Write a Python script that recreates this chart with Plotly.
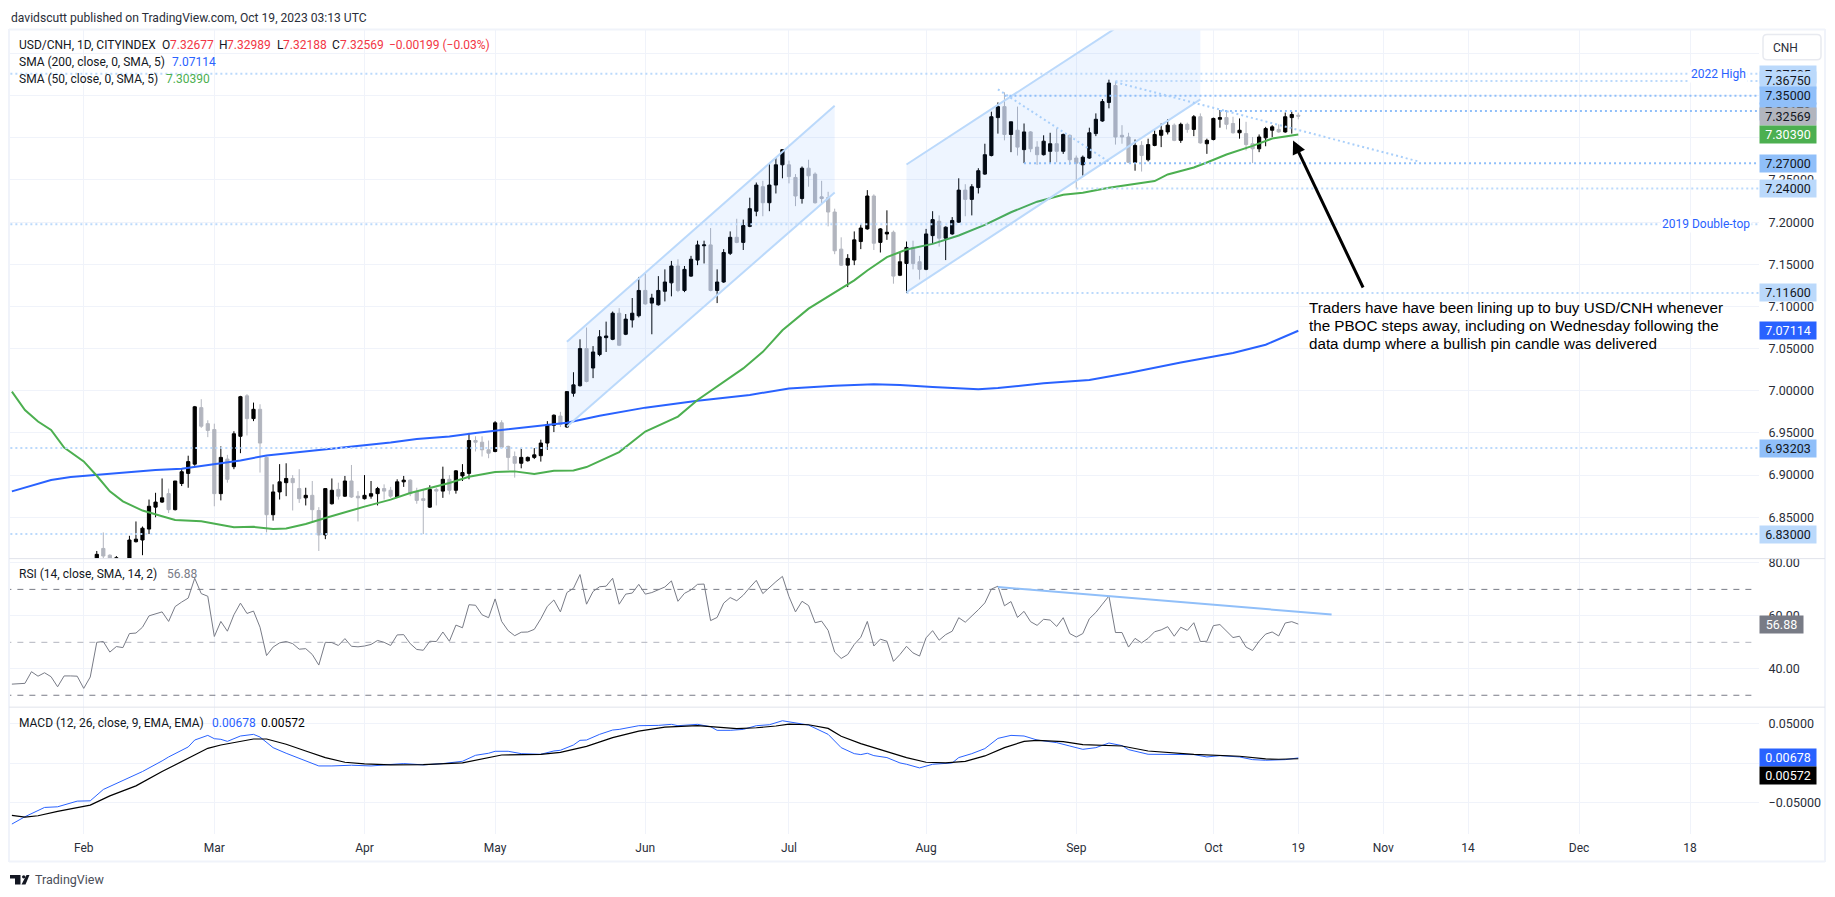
import plotly.graph_objects as go

W, H = 1835, 897

open_ = [6.798,6.813,6.805,6.799,6.797,6.795,6.821,6.823,6.836,6.862,
6.868,6.878,6.859,6.890,6.902,6.913,6.980,6.961,6.954,6.878,
6.919,6.910,6.946,6.994,6.967,6.978,6.921,6.853,6.880,6.891,
6.896,6.884,6.873,6.876,6.858,6.829,6.866,6.883,6.875,6.893,
6.875,6.872,6.875,6.878,6.884,6.882,6.874,6.892,6.894,6.880,
6.872,6.862,6.883,6.881,6.895,6.882,6.899,6.902,6.941,6.939,
6.930,6.928,6.962,6.934,6.922,6.914,6.917,6.921,6.923,6.938,
6.959,6.970,6.957,6.997,7.006,7.050,7.027,7.043,7.063,7.061,
7.092,7.067,7.084,7.089,7.119,7.104,7.102,7.118,7.128,7.148,
7.119,7.136,7.155,7.172,7.173,7.119,7.129,7.163,7.182,7.176,
7.195,7.213,7.242,7.223,7.244,7.268,7.268,7.253,7.228,7.264,
7.257,7.230,7.229,7.212,7.168,7.149,7.155,7.177,7.192,7.231,
7.176,7.186,7.188,7.137,7.151,7.170,7.153,7.144,7.184,7.201,
7.181,7.186,7.200,7.238,7.227,7.241,7.257,7.279,7.324,7.337,
7.304,7.309,7.286,7.307,7.289,7.280,7.284,7.293,7.284,7.303,
7.276,7.268,7.276,7.305,7.320,7.342,7.362,7.303,7.301,7.271,
7.291,7.274,7.291,7.303,7.307,7.315,7.297,7.316,7.310,7.325,
7.293,7.298,7.322,7.324,7.317,7.306,7.305,7.293,7.287,7.300,
7.309,7.310,7.307,7.324,7.32677]

high = [6.810,6.832,6.806,6.804,6.799,6.828,6.845,6.839,6.871,6.879,
6.896,6.884,6.893,6.907,6.923,6.982,6.990,6.965,6.961,6.934,
6.924,6.952,6.994,6.996,6.986,6.984,6.922,6.889,6.913,6.914,
6.900,6.907,6.885,6.893,6.862,6.884,6.896,6.891,6.899,6.912,
6.881,6.900,6.893,6.886,6.889,6.886,6.895,6.899,6.895,6.885,
6.883,6.888,6.885,6.910,6.900,6.906,6.913,6.950,6.946,6.946,
6.941,6.964,6.965,6.935,6.928,6.932,6.922,6.932,6.942,6.964,
6.972,6.975,6.999,7.022,7.061,7.075,7.053,7.072,7.082,7.094,
7.098,7.091,7.110,7.135,7.140,7.115,7.136,7.144,7.154,7.156,
7.148,7.160,7.178,7.178,7.193,7.144,7.168,7.189,7.204,7.203,
7.229,7.247,7.249,7.270,7.277,7.286,7.273,7.257,7.266,7.274,
7.259,7.249,7.236,7.216,7.182,7.162,7.189,7.197,7.238,7.233,
7.193,7.214,7.190,7.164,7.177,7.178,7.160,7.192,7.213,7.208,
7.195,7.206,7.252,7.245,7.245,7.264,7.293,7.331,7.342,7.354,
7.319,7.337,7.317,7.308,7.296,7.303,7.306,7.311,7.305,7.304,
7.279,7.279,7.312,7.329,7.346,7.369,7.367,7.315,7.306,7.298,
7.296,7.299,7.309,7.317,7.322,7.317,7.318,7.318,7.327,7.329,
7.299,7.324,7.333,7.333,7.325,7.323,7.319,7.301,7.304,7.313,
7.315,7.316,7.330,7.331,7.32989]

low = [6.794,6.800,6.795,6.796,6.785,6.788,6.820,6.805,6.830,6.850,
6.867,6.855,6.858,6.887,6.885,6.911,6.956,6.945,6.863,6.870,
6.891,6.907,6.926,6.947,6.964,6.903,6.832,6.846,6.871,6.875,
6.858,6.867,6.864,6.845,6.810,6.824,6.865,6.871,6.874,6.873,
6.845,6.871,6.872,6.864,6.871,6.873,6.873,6.886,6.875,6.866,
6.830,6.861,6.864,6.873,6.877,6.878,6.893,6.895,6.928,6.922,
6.920,6.927,6.931,6.906,6.897,6.908,6.916,6.919,6.916,6.930,
6.951,6.957,6.956,6.993,7.005,7.010,7.015,7.041,7.046,7.060,
7.053,7.066,7.075,7.087,7.102,7.067,7.101,7.106,7.112,7.117,
7.117,7.135,7.149,7.151,7.118,7.104,7.128,7.161,7.175,7.167,
7.194,7.207,7.207,7.213,7.234,7.252,7.246,7.219,7.222,7.242,
7.222,7.221,7.195,7.162,7.148,7.123,7.149,7.168,7.191,7.167,
7.164,7.179,7.127,7.136,7.116,7.144,7.132,7.143,7.174,7.171,
7.155,7.185,7.199,7.207,7.208,7.234,7.256,7.278,7.305,7.297,
7.283,7.279,7.270,7.283,7.268,7.279,7.270,7.271,7.281,7.268,
7.240,7.255,7.275,7.302,7.319,7.335,7.292,7.293,7.270,7.261,
7.260,7.272,7.290,7.289,7.304,7.296,7.294,7.306,7.302,7.293,
7.281,7.297,7.312,7.310,7.305,7.299,7.285,7.270,7.283,7.290,
7.301,7.306,7.306,7.305,7.32188]

close = [6.806,6.804,6.799,6.802,6.792,6.823,6.824,6.837,6.863,6.868,
6.873,6.859,6.893,6.904,6.916,6.981,6.958,6.953,6.878,6.921,
6.895,6.949,6.993,6.967,6.978,6.938,6.853,6.880,6.892,6.896,
6.891,6.872,6.876,6.859,6.829,6.884,6.882,6.875,6.893,6.874,
6.873,6.876,6.878,6.884,6.881,6.875,6.892,6.894,6.878,6.870,
6.870,6.883,6.881,6.895,6.882,6.905,6.903,6.941,6.939,6.930,
6.926,6.962,6.933,6.921,6.914,6.921,6.921,6.924,6.938,6.960,
6.971,6.960,6.999,7.007,7.050,7.011,7.046,7.064,7.065,7.092,
7.054,7.085,7.092,7.119,7.103,7.110,7.119,7.129,7.148,7.119,
7.144,7.156,7.173,7.173,7.119,7.129,7.164,7.182,7.176,7.196,
7.216,7.244,7.223,7.244,7.268,7.286,7.254,7.231,7.264,7.255,
7.223,7.228,7.212,7.166,7.149,7.157,7.179,7.193,7.231,7.175,
7.192,7.188,7.136,7.153,7.170,7.151,7.144,7.186,7.203,7.181,
7.194,7.202,7.238,7.227,7.242,7.261,7.280,7.325,7.337,7.304,
7.319,7.289,7.307,7.287,7.280,7.296,7.293,7.284,7.304,7.274,
7.270,7.277,7.306,7.322,7.343,7.365,7.301,7.301,7.271,7.291,
7.279,7.292,7.304,7.309,7.315,7.297,7.316,7.310,7.325,7.294,
7.297,7.323,7.324,7.316,7.306,7.309,7.292,7.287,7.301,7.311,
7.313,7.307,7.325,7.32768,7.32569]

assert len(open_) == len(high) == len(low) == len(close) == 185
bar_index = list(range(-184, 1))

sma200_bars = [-197,-194,-191,-188,-184,-179,-175,-171,-167,-162,-158,-153,-149,-144,-139,-135,-130,-126,-121,-116,-112,
               -107,-100,-92,-84,-78,-71,-65,-61,-56,-49,-46,-39,-32,-26,-18,-10,-5,0]
sma200 = [6.8807,6.8878,6.8941,6.8977,6.9004,6.904,6.9059,6.9075,6.9122,6.9174,6.9233,6.9272,6.93,6.9347,6.9386,6.9429,6.9457,6.95,6.954,6.9583,6.962,
          6.9705,6.98,6.9883,6.995,7.0028,7.006,7.0076,7.0068,7.0044,7.0017,7.0033,7.0088,7.0129,7.0211,7.0336,7.0447,7.0546,7.07114]

sma50_bars = [-197,-195,-193,-191,-189,-186,-184,-182,-180,-177,-174,-172,-168,-166,-163,-160,-157,-155,-152,-149,-146,-143,-139,-136,-133,-130,-127,-123,-120,-117,-114,-111,-109,-106,-104,
              -100,-95,-92,-89,-85,-82,-79,-75,-71,-68,-66,-63,-60,-56,-52,-48,-44,-40,-36,-33,-29,-25,-22,-20,-16,-14,-11,-7,-4,0]
sma50 = [6.9989,6.9772,6.9635,6.9536,6.9327,6.9162,6.8992,6.8807,6.8689,6.8579,6.8512,6.8468,6.8453,6.8425,6.8382,6.8386,6.8362,6.8366,6.8421,6.8492,6.8563,6.8626,6.8709,6.8787,6.8847,6.8906,6.898,6.9036,6.9044,6.9012,6.9051,6.9055,6.9095,6.9201,6.9272,
         6.9516,6.9694,6.9891,7.0048,7.0265,7.0462,7.0718,7.0974,7.1171,7.1309,7.1427,7.1585,7.1675,7.1742,7.1841,7.1967,7.2117,7.2243,7.2326,7.2349,7.2408,7.2448,7.2487,7.2566,7.2649,7.2708,7.2802,7.2905,7.2991,7.3039]

rsi = [34.2,34.3,34.5,38.9,37.2,38.5,37.0,33.2,37.3,37.3,37.2,32.6,36.9,50.0,50.3,46.3,48.4,48.0,53.3,53.5,
55.7,60.0,60.8,61.5,57.9,63.5,65.2,66.7,74.2,68.4,67.4,52.2,57.9,54.2,60.4,64.8,60.9,61.8,55.7,45.0,
48.2,49.8,50.3,49.5,47.4,47.6,45.4,41.4,50.0,49.9,48.8,51.4,48.5,48.3,48.6,49.2,50.7,50.0,48.8,52.8,
52.9,49.5,47.3,47.0,50.4,50.3,53.9,50.4,56.5,55.5,64.2,64.0,60.4,59.3,66.4,57.9,54.4,52.5,53.8,53.9,
54.9,58.9,63.6,66.0,61.5,68.8,70.4,75.6,64.4,69.2,71.0,71.2,74.2,64.4,68.2,68.6,71.9,68.2,68.8,69.8,
70.9,73.2,65.5,68.5,69.8,71.9,
72.0,58.2,59.4,64.8,66.9,65.7,67.8,70.7,73.4,68.4,70.7,72.9,74.9,67.3,61.5,65.5,63.9,57.4,58.0,54.5,
46.3,43.9,45.4,49.2,51.9,57.9,48.6,51.2,50.4,42.8,45.4,48.5,46.0,44.8,51.7,54.4,50.8,52.9,54.2,59.3,
57.6,59.8,62.3,64.9,70.1,71.2,63.8,65.4,59.4,61.7,57.8,56.4,58.7,58.4,56.0,59.3,53.3,52.0,53.3,58.9,
61.3,64.4,67.5,53.7,53.7,48.2,51.5,49.8,51.5,54.0,54.7,55.9,52.3,55.7,54.5,57.4,50.3,50.4,56.3,56.7,
54.4,51.8,52.3,48.2,46.9,50.4,53.1,53.9,52.4,57.3,57.8,56.88]
rsi_bars = list(range(-len(rsi) + 1, 1))

macd_bars = [-197,-195,-192,-190,-187,-185,-183,-180,-177,-174,-173,-170,-169,-167,-166,-165,-164,-162,-160,-159,-157,-155,-152,-150,-148,-145,-142,-139,-137,-134,-131,-128,-126,-124,-123,-121,-119,-116,-114,-113,-111,-110,-109,-107,-105,-104,-101,-98,-96,-95,-92,
-90,-89,-87,-85,-83,-81,-79,-78,-75,-72,-70,-68,-67,-66,-65,-63,-61,-60,-58,-56,-53,-52,-50,-48,-46,-44,-42,-40,-37,-35,-33,-31,-29,-27,-26,-23,-20,-16,-14,-12,-9,-7,-5,-2,0]
macd = [-.0772,-.0679,-.0561,-.0553,-.0481,-.0477,-.0333,-.0224,-.0105,.003,.008,.0207,.0295,.0354,.0312,.0304,.0278,.0346,.0367,.0333,.0198,.0127,.003,-.0034,-.0034,-.0025,-.0034,-.0021,-.0004,-.0021,-.0004,.0025,.0101,.0127,.0152,.0152,.0122,.0114,.0156,.0165,.0232,.0291,.0295,.0367,.0422,.043,.0477,.0481,.0494,.0477,.0494,
.0464,.0418,.0418,.043,.0477,.0489,.054,.0527,.0485,.0367,.0198,.0122,.011,.0127,.0097,.0072,.0004,-.0013,-.0059,-.0013,.0004,.0072,.0122,.0186,.0316,.0354,.0346,.0295,.0262,.0219,.0177,.0198,.0257,.0224,.0173,.0114,.011,.011,.008,.0097,.008,.0046,.0038,.0046,.00678]

signal_bars = [-197,-195,-193,-190,-185,-182,-178,-174,-170,-167,-165,-163,-160,-158,-155,-152,-149,-146,-143,-139,-134,-128,-124,-122,-116,-113,-109,-105,-101,-97,-92,
-89,-86,-83,-80,-78,-75,-72,-70,-67,-63,-60,-57,-54,-51,-48,-45,-42,-40,-36,-33,-30,-27,-23,-19,-16,-9,-5,-3,0]
signal = [-.0662,-.0684,-.0667,-.0612,-.0532,-.0414,-.0287,-.0105,.0063,.019,.0232,.0262,.0308,.0308,.0241,.0156,.0072,.0013,-.0008,-.0021,-.0017,.0004,.0072,.0105,.0114,.0139,.0215,.0325,.0409,.046,.0477,
.0456,.0439,.0451,.0473,.0498,.0489,.0443,.0342,.0249,.0143,.0072,.0013,.0004,.0025,.0093,.0198,.0278,.0291,.0274,.0236,.0232,.0219,.0156,.0127,.0114,.0089,.0055,.0051,.00572]

tick_bars = [-186,-166,-143,-123,-100,-78,-57,-34,-13,0,13,26,43,60]
tick_labels = ["Feb","Mar","Apr","May","Jun","Jul","Aug","Sep","Oct","19","Nov","14","Dec","18"]

price_ticks = [7.40,7.35,7.30,7.25,7.20,7.15,7.10,7.05,7.00,6.95,6.90,6.85]
price_labels = ["","7.35000","7.30000","7.25000","7.20000","7.15000","7.10000","7.05000","7.00000","6.95000","6.90000","6.85000"]
rsi_ticks = [80,60,40]
rsi_labels = ["80.00","60.00","40.00"]
macd_ticks = [0.05,0,-0.05]
macd_labels = ["0.05000","","\u22120.05000"]

LIGHT, MID = "#bbd9fb", "#90bff9"
# level, first bar, colour
levels = [(7.376,-198,LIGHT),(7.3675,-28,LIGHT),(7.35,-45,MID),(7.3317,-12,MID),(7.27,-42,MID),
          (7.24,-34,LIGHT),(7.1975,-198,LIGHT),(7.116,-60,LIGHT),(6.93203,-198,LIGHT),(6.83,-198,LIGHT)]
# value, text, background, text colour
level_tags = [(7.37505,"7.37505",LIGHT,"#131722"),(7.3675,"7.36750",LIGHT,"#131722"),(7.35,"7.35000",MID,"#131722"),
              (7.3317,"7.33170",MID,"#131722"),(7.32569,"7.32569","#b2b5be","#131722"),(7.3039,"7.30390","#4caf50","#ffffff"),
              (7.27,"7.27000",MID,"#131722"),(7.24,"7.24000",LIGHT,"#131722"),(7.116,"7.11600",LIGHT,"#131722"),
              (7.07114,"7.07114","#2962ff","#ffffff"),(6.93203,"6.93203",MID,"#131722"),(6.83,"6.83000",LIGHT,"#131722")]

channel1_bars = [-112,-71,-71,-112]
channel1_vals = [7.058,7.338,7.2353,6.9576]
channel2_bars = [-60,-15,-15,-60]
channel2_vals = [7.2684,7.4956,7.3456,7.1171]
diag1_bars, diag1_vals = [-46,-29], [7.3575,7.2716]
diag2_bars, diag2_vals = [-28,18.6], [7.366,7.2716]
rsi_trend_bars, rsi_trend_vals = [-46,5.1], [70.9,60.5]

note_lines = ["Traders have have been lining up to buy USD/CNH whenever",
              "the PBOC steps away, including on Wednesday following the",
              "data dump where a bullish pin candle was delivered"]

FONT = "Roboto, Arial, sans-serif"
TXT = "#131722"

def fx(px): return px / W
def fy(py): return 1 - py / H

X0, X1 = 9, 1759
KPX, K0 = 6.53, 1298.3
xrange_ = [(X0 - K0) / KPX, (X1 - K0) / KPX]

fig = go.Figure()
fig.add_trace(go.Candlestick(x=bar_index, open=open_, high=high, low=low, close=close, xaxis="x", yaxis="y",
    increasing=dict(line=dict(color="#000000", width=1), fillcolor="#000000"),
    decreasing=dict(line=dict(color="#b2b5be", width=1), fillcolor="#b2b5be"),
    whiskerwidth=0, showlegend=False, hoverinfo="skip"))

def line(x, y, color, width=1, dash=None, xa="x", ya="y", **kw):
    fig.add_trace(go.Scatter(x=x, y=y, mode="lines", xaxis=xa, yaxis=ya, showlegend=False, hoverinfo="skip",
                             line=dict(color=color, width=width, dash=dash), **kw))

line(sma200_bars, sma200, "#2962ff", 2)
line(sma50_bars, sma50, "#4caf50", 2)

for cx, cy in [(channel1_bars, channel1_vals), (channel2_bars, channel2_vals)]:
    fig.add_trace(go.Scatter(x=cx + cx[:1], y=cy + cy[:1], mode="none", fill="toself", fillcolor="rgba(41,130,255,0.08)",
                             showlegend=False, hoverinfo="skip"))
    line(cx[:2], cy[:2], LIGHT, 2)
    line(cx[2:], cy[2:], LIGHT, 2)

DOT = "2px,3px"
for val, start, col in levels:
    line([start, 72], [val, val], col, 2, DOT)
line(diag1_bars, diag1_vals, "#a9cffa", 2, DOT)
line(diag2_bars, diag2_vals, "#a9cffa", 2, DOT)

for v, col in [(70, "#787b86"), (50, "#b2b5be"), (30, "#787b86")]:
    line([-198, 69.6], [v, v], col, 1, "6px,6px", xa="x2", ya="y2")
line(rsi_bars, rsi, "#787b86", 1, xa="x2", ya="y2")
line(rsi_trend_bars, rsi_trend_vals, MID, 2, xa="x2", ya="y2")
line(macd_bars, macd, "#2962ff", 1, xa="x3", ya="y3")
line(signal_bars, signal, "#000000", 1.2, xa="x3", ya="y3")

GRID = "#f0f3fa"
ax_common = dict(range=xrange_, domain=[fx(X0), fx(X1)], tickvals=tick_bars, ticktext=tick_labels, showgrid=True,
                 gridcolor=GRID, gridwidth=1, zeroline=False, showline=False, ticks="", rangeslider=dict(visible=False),
                 fixedrange=True)
AXF = 12.5
def ya(dom, rng, tv, tt):
    return dict(domain=[fy(dom[1]), fy(dom[0])], range=rng, side="right", tickvals=tv, ticktext=tt, showgrid=True,
                gridcolor=GRID, gridwidth=1, zeroline=False, showline=False, ticks="outside", ticklen=6,
                tickcolor="rgba(0,0,0,0)", tickfont=dict(family=FONT, size=AXF, color="#2a2e39"), fixedrange=True)

fig.update_layout(
    width=W, height=H, margin=dict(l=0, r=0, t=0, b=0), autosize=False,
    paper_bgcolor="#ffffff", plot_bgcolor="#ffffff", showlegend=False, dragmode=False,
    xaxis=dict(ax_common, anchor="y", showticklabels=False),
    xaxis2=dict(ax_common, anchor="y2", showticklabels=False),
    xaxis3=dict(ax_common, anchor="y3", showticklabels=True, tickfont=dict(family=FONT, size=12, color="#2a2e39"),
                ticks="outside", ticklen=2, tickcolor="rgba(0,0,0,0)"),
    yaxis=dict(ya((27, 557), [6.8015, 7.428], price_ticks, price_labels), anchor="x"),
    yaxis2=dict(ya((557, 706), [25.7, 81.8], rsi_ticks, rsi_labels), anchor="x2"),
    yaxis3=dict(ya((706, 834), [-0.0901, 0.0719], macd_ticks, macd_labels), anchor="x3"),
)

shapes = []
FRAME = "#f0f3fa"
def pline(x0, y0, x1, y1, color, w):
    shapes.append(dict(type="line", xref="paper", yref="paper", x0=fx(x0), y0=fy(y0), x1=fx(x1), y1=fy(y1),
                       line=dict(color=color, width=w), layer="above"))
pline(9, 26.5, 1825, 26.5, FRAME, 2)
pline(9, 861.5, 1825, 861.5, FRAME, 2)
pline(9, 26, 9, 862, FRAME, 2)
pline(1825, 26, 1825, 862, FRAME, 2)
pline(9, 557.5, 1825, 557.5, "#e0e3eb", 1)
pline(9, 706.5, 1825, 706.5, "#e0e3eb", 1)

# CNH button
def rr(x0, y0, x1, y1, r):
    P = lambda a, b: f"{fx(a):.6f},{fy(b):.6f}"
    return (f"M {P(x0+r,y0)} L {P(x1-r,y0)} Q {P(x1,y0)} {P(x1,y0+r)} L {P(x1,y1-r)} Q {P(x1,y1)} {P(x1-r,y1)} "
            f"L {P(x0+r,y1)} Q {P(x0,y1)} {P(x0,y1-r)} L {P(x0,y0+r)} Q {P(x0,y0)} {P(x0+r,y0)} Z")
shapes.append(dict(type="path", xref="paper", yref="paper", path=rr(1763, 31.5, 1821, 57, 4), fillcolor="#ffffff",
                   line=dict(color="#e8eaf0", width=1.5), layer="above"))

# TradingView mark
def poly(pts, color="#131722"):
    d = "M " + " L ".join(f"{fx(a):.6f},{fy(b):.6f}" for a, b in pts) + " Z"
    shapes.append(dict(type="path", xref="paper", yref="paper", path=d, fillcolor=color, line=dict(width=0), layer="above"))
poly([(10, 875), (20.5, 875), (20.5, 884.5), (15, 884.5), (15, 878.5), (10, 878.5)])
poly([(26.5, 875), (29.5, 875), (25.5, 884.5), (21.5, 884.5)])
shapes.append(dict(type="circle", xref="paper", yref="paper", x0=fx(22), x1=fx(25.4), y0=fy(878.5), y1=fy(875.1),
                   fillcolor="#131722", line=dict(width=0), layer="above"))
fig.update_layout(shapes=shapes)

ann = []
def text(px, py, s, color=TXT, size=12, family=FONT, anchor="left"):
    ann.append(dict(xref="paper", yref="paper", x=fx(px), y=fy(py), text=s, showarrow=False, xanchor=anchor, yanchor="middle",
                    font=dict(family=family, size=size, color=color), align="left", borderpad=0))

RED, BLUE, GREEN, GREY = "#f23645", "#2962ff", "#4caf50", "#787b86"
text(10, 15, "davidscutt published on TradingView.com, Oct 19, 2023 03:13 UTC", "#2a2e39", 12.1)
text(18, 42, "USD/CNH, 1D, CITYINDEX")
for x, s in [(160.5, "O"), (218, "H"), (275.5, "L"), (331, "C")]:
    text(x, 42, s)
for x, s in [(169, "7.32677"), (226, "7.32989"), (282, "7.32188"), (339, "7.32569"), (388, "\u22120.00199 (\u22120.03%)")]:
    text(x, 42, s, RED)
text(18, 59, "SMA (200, close, 0, SMA, 5)")
text(171, 59, "7.07114", BLUE)
text(18, 76, "SMA (50, close, 0, SMA, 5)")
text(165, 76, "7.30390", GREEN)
text(18, 573, "RSI (14, close, SMA, 14, 2)")
text(166, 573, "56.88", GREY)
text(18, 722, "MACD (12, 26, close, 9, EMA, EMA)")
text(211, 722, "0.00678", BLUE)
text(260, 722, "0.00572", "#000000")
text(33.5, 879, "TradingView", "#4a4e59", 12.5)
text(1772, 45, "CNH", "#2a2e39", 12)

def tag(val, s, bg, fg, yref="y", w=56, yshift=0):
    ann.append(dict(xref="paper", yref=yref, x=fx(1759), y=val, text=s, showarrow=False, xanchor="left", yanchor="middle",
                    width=w, height=17, bgcolor=bg, align="center", borderpad=0, yshift=yshift,
                    font=dict(family=FONT, size=AXF, color=fg)))
for v, s, bg, fg in level_tags:
    tag(v, s, bg, fg)
tag(56.88, "56.88", "#787b86", "#ffffff", "y2", 43)
tag(0.00678, "0.00678", "#2962ff", "#ffffff", "y3")
tag(0.00572, "0.00572", "#000000", "#ffffff", "y3", yshift=-16.5)

for k, v, s in [(68.9, 7.376, "2022 High"), (69.5, 7.1975, "2019 Double-top")]:
    ann.append(dict(xref="x", yref="y", x=k, y=v, text=s, showarrow=False, xanchor="right", yanchor="middle",
                    bgcolor="#ffffff", borderpad=1, font=dict(family=FONT, size=12, color=BLUE)))

for py, s in zip([306, 324, 342], note_lines):
    text(1307.5, py, s, "#000000", 15.2, "Liberation Sans, Arial")
ann.append(dict(xref="x", yref="y", axref="x", ayref="y", x=-0.8, y=7.2968, ax=10.03, ay=7.1207, text="", showarrow=True,
                arrowhead=2, arrowsize=0.9, arrowwidth=3, arrowcolor="#000000", standoff=0))
fig.update_layout(annotations=ann)

fig.write_html("out.html", config=dict(displayModeBar=False), post_script="document.body.style.margin='0';")
